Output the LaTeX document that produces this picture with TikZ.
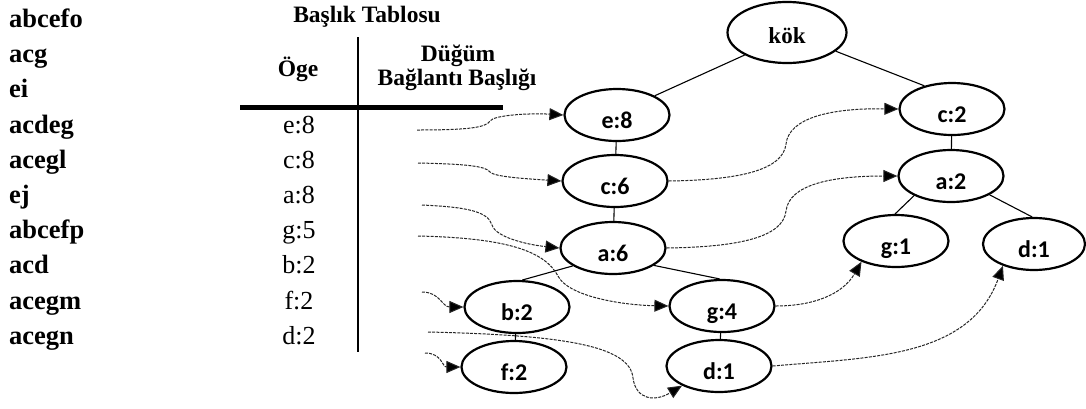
\documentclass[tikz,border=0pt]{standalone}
\usepackage{fontspec}
\setmainfont{Liberation Serif}
\newfontfamily\carl{Carlito}
\usetikzlibrary{shapes.geometric,arrows.meta}
\begin{document}
\begin{tikzpicture}[x=1pt,y=-1pt,
 tnode/.style={ellipse,draw,line width=2.2pt,minimum width=105pt,minimum height=52pt,inner sep=0pt,font=\carl\bfseries\fontsize{24}{24}\selectfont,text height=26pt,text depth=0pt},
 word/.style={anchor=base west,inner sep=0pt,font=\bfseries\fontsize{26.5}{30}\selectfont},
 entry/.style={anchor=base,inner sep=0pt,font=\fontsize{26}{30}\selectfont},
 head/.style={anchor=base,inner sep=0pt,font=\bfseries\fontsize{23.5}{26}\selectfont},
 tedge/.style={line width=1.1pt},
 link/.style={line width=1pt,black!85,dash pattern=on 3pt off 1.2pt,-{Triangle[length=14pt,width=12pt,fill=black]}}
]
\useasboundingbox (0,0) rectangle (1086,408);

% left word list
\node[word] (w0) at (9,27.5) {abcefo};
\node[word] (w1) at (9,62.7) {acg};
\node[word] (w2) at (9,97.9) {ei};
\node[word] (w3) at (9,133.1) {acdeg};
\node[word] (w4) at (9,168.3) {acegl};
\node[word] (w5) at (9,203.5) {ej};
\node[word] (w6) at (9,238.7) {abcefp};
\node[word] (w7) at (9,273.9) {acd};
\node[word] (w8) at (9,309.1) {acegm};
\node[word] (w9) at (9,344.3) {acegn};

% header table
\node[head] (title) at (367,22.7) {Başlık Tablosu};
\node[head] (oge) at (298,76.7) {Öge};
\node[head] (dug) at (458,61.7) {Düğüm};
\node[head] (bag) at (457,85) {Bağlantı Başlığı};
\draw[line width=1.5pt] (358,37) -- (358,352);
\draw[line width=5pt] (240,107) -- (503,107);

\node[entry] (t1) at (299,133.1) {e:8};
\node[entry] (t2) at (299,168.3) {c:8};
\node[entry] (t3) at (299,203.5) {a:8};
\node[entry] (t4) at (299,238.7) {g:5};
\node[entry] (t5) at (299,273.9) {b:2};
\node[entry] (t6) at (299,309.1) {f:2};
\node[entry] (t7) at (299,344.3) {d:2};

% tree
\node[tnode,minimum width=119pt,minimum height=61pt,font=\bfseries\fontsize{23}{23}\selectfont,text height=22pt] (kok) at (787,32.5) {kök};
\node[tnode] (e8) at (617,115) {e:8};
\node[tnode] (c6) at (615,181) {c:6};
\node[tnode] (a6) at (613,248) {a:6};
\node[tnode] (b2) at (517,307) {b:2};
\node[tnode] (f2) at (514,367) {f:2};
\node[tnode] (g4) at (722,306) {g:4};
\node[tnode] (d1b) at (719,366) {d:1};
\node[tnode] (c2) at (952,109) {c:2};
\node[tnode] (a2) at (951,176) {a:2};
\node[tnode] (g1) at (896,241) {g:1};
\node[tnode,minimum width=102pt] (d1r) at (1034,244) {d:1};

\draw[tedge] (kok.208) -- (e8.27);
\draw[tedge] (kok.-21) -- (c2.140);
\draw[tedge] (e8) -- (c6);
\draw[tedge] (c6) -- (a6);
\draw[tedge] (a6.204) -- (b2.79);
\draw[tedge] (a6.-23) -- (g4.95);
\draw[tedge] (b2) -- (f2);
\draw[tedge] (g4) -- (d1b);
\draw[tedge] (c2) -- (a2);
\draw[tedge] (a2.208) -- (g1.92);
\draw[tedge] (a2.-26) -- (d1r.94);

% header links
\coordinate (s1) at (417,130);
\coordinate (s2) at (418,163);
\coordinate (s3) at (422,205);
\coordinate (s4) at (418,236);
\coordinate (s5) at (422,292);
\coordinate (s6) at (425,353);
\coordinate (s7) at (428,332);

\draw[link] (s1) .. controls (465,130) and (486,128) .. (490,121) .. controls (494,115) and (530,113) .. (e8.west);
\draw[link] (s2) .. controls (465,164) and (486,166) .. (490,172) .. controls (494,177) and (530,179) .. (c6.west);
\draw[link] (s3) .. controls (465,207) and (488,211) .. (492,225) .. controls (496,238) and (530,245) .. (a6.west);
\draw[link] (s4) .. controls (510,238) and (545,252) .. (558,276) .. controls (568,296) and (620,305) .. (g4.west);
\draw[link] (s5) .. controls (440,292) and (442,307) .. (b2.west);
\draw[link] (s6) .. controls (442,353) and (442,367) .. (f2.west);
\draw[link] (s7) .. controls (560,335) and (630,345) .. (633,378) .. controls (636,400) and (655,402) .. (d1b.208);

% node links
\draw[link] (c6.east) .. controls (740,180) and (783,170) .. (786,144) .. controls (789,118) and (830,108) .. (c2.west);
\draw[link] (a6.east) .. controls (740,247) and (783,237) .. (786,211) .. controls (789,185) and (830,176) .. (a2.west);
\draw[link] (g4.east) to[out=0,in=240] (g1.211);
\draw[link] (d1b.east) to[out=5,in=250] (d1r.215);
\end{tikzpicture}
\end{document}
